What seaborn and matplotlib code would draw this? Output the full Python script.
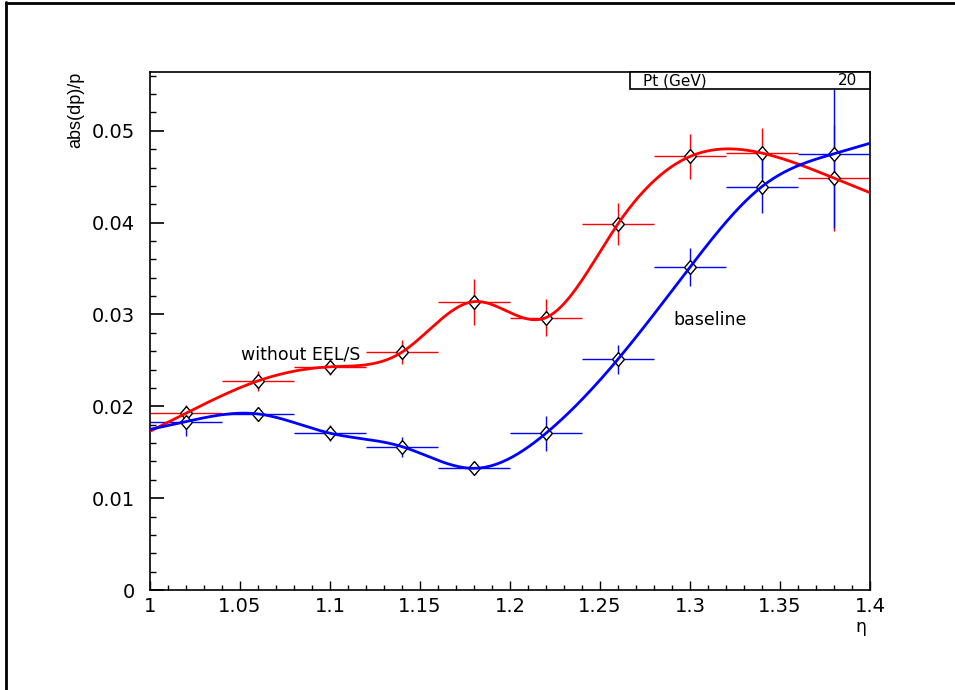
import numpy as np
import pandas as pd
import matplotlib
matplotlib.use("Agg")
import matplotlib.pyplot as plt
from matplotlib.patches import Rectangle
from matplotlib.lines import Line2D
from matplotlib.ticker import MultipleLocator, FixedFormatter, FixedLocator
import seaborn as sns

# eta bin centres and half-widths
eta = [1.02, 1.06, 1.10, 1.14, 1.18, 1.22, 1.26, 1.30, 1.34, 1.38]
eta_halfwidth = 0.02

# resolution without EEL/S
res_noeel = [0.01925, 0.02277, 0.0243, 0.0259, 0.0314, 0.02966, 0.03987, 0.0472, 0.04757, 0.04485]
err_noeel = [0.0009, 0.0011, 0.0009, 0.0013, 0.0025, 0.0020, 0.0023, 0.0024, 0.0027, 0.0058]

# baseline resolution
res_base = [0.01834, 0.01917, 0.01707, 0.01561, 0.01325, 0.01707, 0.02513, 0.03515, 0.04393, 0.0475]
err_base = [0.0016, 0.0008, 0.0009, 0.0011, 0.0006, 0.0019, 0.0016, 0.0021, 0.0029, 0.0081]

x_ticks = [1.0, 1.05, 1.1, 1.15, 1.2, 1.25, 1.3, 1.35, 1.4]
x_tick_labels = ["1", "1.05", "1.1", "1.15", "1.2", "1.25", "1.3", "1.35", "1.4"]
y_ticks = [0.0, 0.01, 0.02, 0.03, 0.04, 0.05]
y_tick_labels = ["0", "0.01", "0.02", "0.03", "0.04", "0.05"]

pt_value = "20"

sns.set_theme(style="white")
plt.rcParams["font.family"] = ["DejaVu Sans"]

W, H = 955, 690
fig = plt.figure(figsize=(W / 100, H / 100), dpi=100)
fig.patch.set_facecolor("white")


def fx(px):
    return px / W


def fy(py):
    return 1 - py / H


ax = fig.add_axes([fx(150), fy(590), fx(870) - fx(150), fy(72) - fy(590)])
ax.set_facecolor("white")
ax.set_xlim(1.0, 1.4)
ax.set_ylim(0.0, 0.0564)


def natural_spline(x, y, grid):
    """Natural cubic spline through (x, y), continued linearly past the ends."""
    x = np.asarray(x, float)
    y = np.asarray(y, float)
    n = len(x)
    h = np.diff(x)
    A = np.zeros((n, n))
    r = np.zeros(n)
    A[0, 0] = A[-1, -1] = 1.0
    for i in range(1, n - 1):
        A[i, i - 1] = h[i - 1]
        A[i, i] = 2 * (h[i - 1] + h[i])
        A[i, i + 1] = h[i]
        r[i] = 6 * ((y[i + 1] - y[i]) / h[i] - (y[i] - y[i - 1]) / h[i - 1])
    M = np.linalg.solve(A, r)
    out = np.empty_like(grid)
    for k, g in enumerate(grid):
        if g <= x[0]:
            s = (y[1] - y[0]) / h[0] - h[0] * (2 * M[0] + M[1]) / 6
            out[k] = y[0] + s * (g - x[0])
        elif g >= x[-1]:
            s = (y[-1] - y[-2]) / h[-1] + h[-1] * (M[-2] + 2 * M[-1]) / 6
            out[k] = y[-1] + s * (g - x[-1])
        else:
            i = min(np.searchsorted(x, g) - 1, n - 2)
            t0 = x[i + 1] - g
            t1 = g - x[i]
            out[k] = (M[i] * t0 ** 3 + M[i + 1] * t1 ** 3) / (6 * h[i]) \
                + (y[i] / h[i] - M[i] * h[i] / 6) * t0 \
                + (y[i + 1] / h[i] - M[i + 1] * h[i] / 6) * t1
    return out


diamond = [(0, 1), (0.85, 0), (0, -1), (-0.85, 0), (0, 1)]

series = [
    (res_noeel, err_noeel, (1, 0, 0)),
    (res_base, err_base, (0, 0, 1)),
]

# error crosses
for vals, errs, col in series:
    ax.errorbar(eta, vals, xerr=eta_halfwidth, yerr=errs, fmt="none",
                ecolor=col, elinewidth=1.0, capsize=0, zorder=2)

# open diamond markers
for vals, errs, col in series:
    df = pd.DataFrame({"eta": eta, "res": vals})
    sns.scatterplot(data=df, x="eta", y="res", ax=ax, marker=diamond, s=10 ** 2,
                    facecolor="white", edgecolor="black", linewidth=1.0,
                    zorder=3, legend=False)

# smooth curves through the measurements
grid = np.linspace(1.0, 1.4, 400)
for vals, errs, col in series:
    curve = pd.DataFrame({"eta": grid, "res": natural_spline(eta, vals, grid)})
    sns.lineplot(data=curve, x="eta", y="res", ax=ax, color=col,
                 linewidth=2.0, zorder=4, legend=False)

ax.set_xlabel("")
ax.set_ylabel("")

# axes frame and ticks
for sp in ax.spines.values():
    sp.set_color("black")
    sp.set_linewidth(1.2)
    sp.set_visible(True)

ax.xaxis.set_major_locator(FixedLocator(x_ticks))
ax.xaxis.set_major_formatter(FixedFormatter(x_tick_labels))
ax.xaxis.set_minor_locator(MultipleLocator(0.01))
ax.yaxis.set_major_locator(FixedLocator(y_ticks))
ax.yaxis.set_major_formatter(FixedFormatter(y_tick_labels))
ax.yaxis.set_minor_locator(MultipleLocator(0.002))

ax.tick_params(axis="x", which="major", direction="in", length=6.5, width=1.0,
               color="black", labelsize=14, pad=5, bottom=True, top=False)
ax.tick_params(axis="x", which="minor", direction="in", length=3.6, width=1.0,
               color="black", bottom=True, top=False)
ax.tick_params(axis="y", which="major", direction="in", length=10, width=1.2,
               color="black", labelsize=14, pad=11, left=True, right=False)
ax.tick_params(axis="y", which="minor", direction="in", length=4.3, width=1.0,
               color="black", left=True, right=False)
for lab in ax.get_xticklabels() + ax.get_yticklabels():
    lab.set_color("black")

# axis titles
fig.text(fx(76), fy(72), "abs(dp)/p", rotation=90, ha="center", va="top",
         fontsize=13, family="Liberation Sans", color="black")
fig.text(fx(861), fy(627), "η", ha="center", va="center", fontsize=12.5, color="black")

# curve labels
ax.text(1.0506, 0.0256, "without EEL/S", fontsize=12.5,
        ha="left", va="center", color="black", zorder=5)
ax.text(1.2906, 0.0294, "baseline", fontsize=12.5,
        ha="left", va="center", color="black", zorder=5)

# info box in the upper right corner
fig.patches.append(Rectangle((fx(630), fy(89)), fx(870) - fx(630), fy(72) - fy(89),
                             transform=fig.transFigure, facecolor="white",
                             edgecolor="black", linewidth=1.2, zorder=6))
fig.text(fx(643), fy(80.5), "Pt (GeV)", fontsize=11,
         ha="left", va="center", color="black", zorder=7)
fig.text(fx(857), fy(80.5), pt_value, fontsize=11,
         ha="right", va="center", color="black", zorder=7)

# canvas border (left and top edges)
fig.add_artist(Line2D([fx(6), fx(6)], [0, fy(2)], transform=fig.transFigure,
                      color="black", linewidth=2))
fig.add_artist(Line2D([fx(6), 1], [fy(2.5), fy(2.5)], transform=fig.transFigure,
                      color="black", linewidth=2))

fig.savefig("out.png", dpi=100, facecolor="white")
